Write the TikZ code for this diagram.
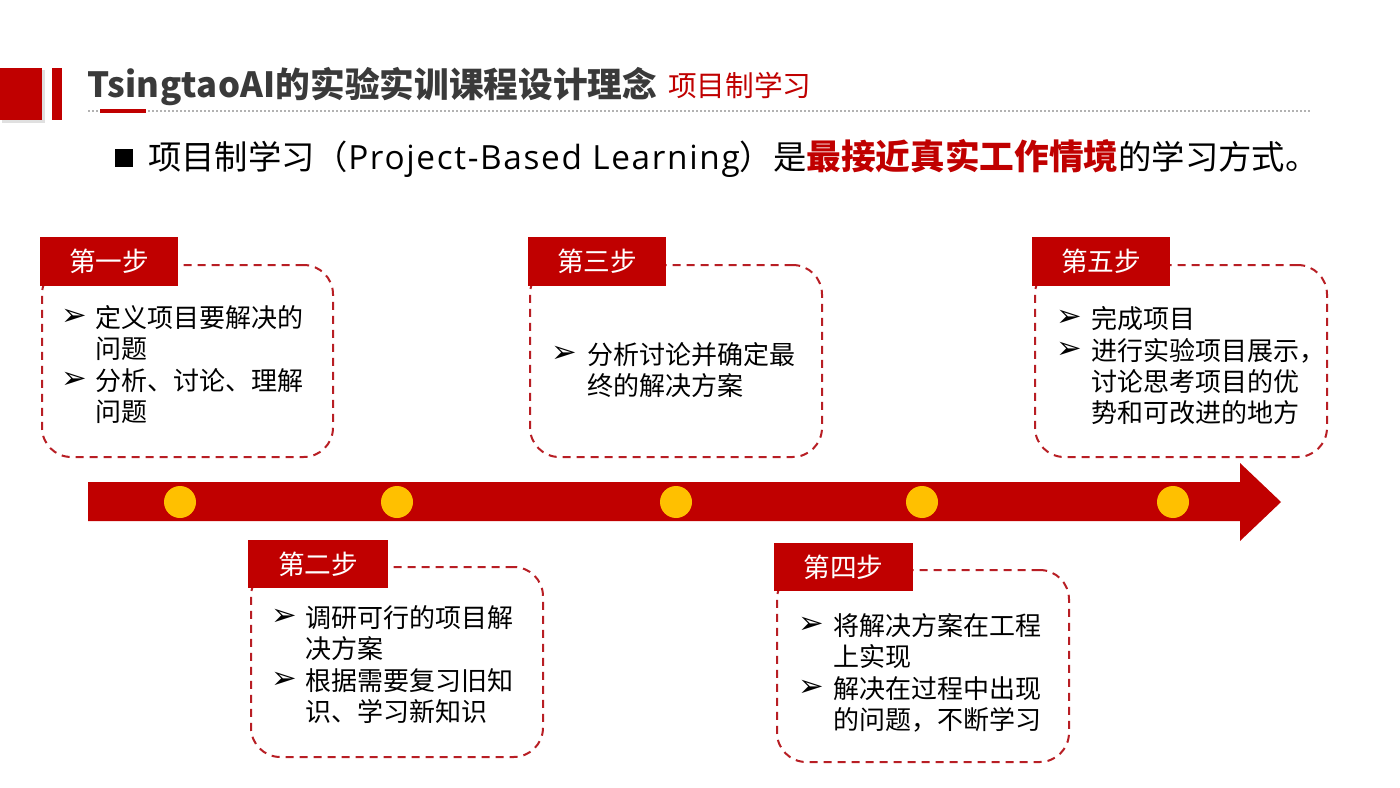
\documentclass[tikz,border=0pt]{standalone}
\usepackage{fontspec}
\setmainfont{Noto Sans CJK SC}
\newfontfamily\dejavu{DejaVu Sans}
\newfontfamily\latinfont{Open Sans}
\definecolor{myred}{HTML}{C00000}
\definecolor{dashred}{HTML}{B81E24}
\definecolor{mygold}{HTML}{FFC000}
\definecolor{titlegray}{HTML}{3A3A3A}
\begin{document}
\begin{tikzpicture}[x=0.75pt,y=-0.75pt,
  stepbox/.style={fill=myred, draw=none, inner sep=0, text=white,
    font=\fontsize{20}{24}\selectfont, minimum width=103.5pt, minimum height=36.75pt},
  dashbox/.style={draw=dashred, line width=1.5pt, dash pattern=on 6pt off 4.5pt,
    rounded corners=22pt, fill=white, inner sep=0},
  txt/.style={anchor=base west, inner sep=0, font=\fontsize{19.5}{23}\selectfont, text=black},
  bul/.style={anchor=center, inner sep=0, font=\dejavu\fontsize{23}{26}\selectfont, text=black},
  dot/.style={circle, fill=mygold, draw=none, minimum size=24pt, inner sep=0}
]
\useasboundingbox (0,0) rectangle (1400,788);
\fill[white] (0,0) rectangle (1400,788);

% header
\fill[black!12] (2,70) rectangle (45,123);
\fill[myred] (0,68) rectangle (42,120);
\fill[myred] (52,68) rectangle (62,120);
\node[anchor=base west, inner sep=0, text=titlegray, font=\bfseries\fontsize{26}{30}\selectfont] (title) at (87,98) {{\addfontfeature{LetterSpace=1}TsingtaoAI}的实验实训课程设计理念};
\node[anchor=base west, inner sep=0, text=myred, font=\fontsize{21.5}{26}\selectfont] (subtitle) at (668,97) {项目制学习};
\draw[black!30, line width=0.8pt, dash pattern=on 1.2pt off 1.8pt] (88,111) -- (1310,111);
\draw[myred, line width=2.4pt] (100,111) -- (146,111);

% lead sentence
\fill[black] (115,149) rectangle (133,167);
\node[anchor=base west, inner sep=0, font=\fontsize{25}{29}\selectfont] (lead) at (148,170) {项目制学习（{\latinfont\addfontfeature{LetterSpace=5}Project-Based Learning}）是\textcolor{myred}{\bfseries\fontsize{26}{29}\selectfont 最接近真实工作情境}的学习方式。};

% arrow
\fill[myred] (88,482) -- (1240,482) -- (1240,463) -- (1281,502) -- (1240,541) -- (1240,521) -- (88,521) -- cycle;
\node[dot] (c1) at (180,502) {};
\node[dot] (c2) at (397,502) {};
\node[dot] (c3) at (676,502) {};
\node[dot] (c4) at (922,502) {};
\node[dot] (c5) at (1173,502) {};

% boxes
\node[dashbox, minimum width=218.25pt, minimum height=144pt] (b1) at (187.5,361) {};
\node[dashbox, minimum width=219pt, minimum height=144pt] (b3) at (676,361) {};
\node[dashbox, minimum width=219pt, minimum height=144pt] (b5) at (1181,361) {};
\node[dashbox, minimum width=219pt, minimum height=142.5pt] (b2) at (397,662) {};
\node[dashbox, minimum width=219pt, minimum height=144pt] (b4) at (923,666) {};

\node[stepbox] (s1) at (109,261.5) {第一步};
\node[stepbox] (s3) at (597,261.5) {第三步};
\node[stepbox] (s5) at (1101,261.5) {第五步};
\node[stepbox, minimum width=105pt, minimum height=36pt] (s2) at (318,564) {第二步};
\node[stepbox, minimum width=104.25pt, minimum height=36pt] (s4) at (843.5,567) {第四步};

% step 1
\node[bul] (a1) at (74,317) {➢};
\node[txt] (t11) at (95,327) {定义项目要解决的};
\node[txt] (t12) at (95,358) {问题};
\node[bul] (a2) at (74,380) {➢};
\node[txt] (t13) at (95,390) {分析、讨论、理解};
\node[txt] (t14) at (95,421) {问题};

% step 3
\node[bul] (a3) at (564,354) {➢};
\node[txt] (t31) at (587,364) {分析讨论并确定最};
\node[txt] (t32) at (587,395) {终的解决方案};

% step 5
\node[bul] (a4) at (1069,318) {➢};
\node[txt] (t51) at (1091,328) {完成项目};
\node[bul] (a5) at (1069,350) {➢};
\node[txt] (t52) at (1091,360) {进行实验项目展示，};
\node[txt] (t53) at (1091,391) {讨论思考项目的优};
\node[txt] (t54) at (1091,422) {势和可改进的地方};

% step 2
\node[bul] (a6) at (284,617) {➢};
\node[txt] (t21) at (305,627) {调研可行的项目解};
\node[txt] (t22) at (305,658) {决方案};
\node[bul] (a7) at (284,680) {➢};
\node[txt] (t23) at (305,690) {根据需要复习旧知};
\node[txt] (t24) at (305,721) {识、学习新知识};

% step 4
\node[bul] (a8) at (811,625) {➢};
\node[txt] (t41) at (833,635) {将解决方案在工程};
\node[txt] (t42) at (833,666) {上实现};
\node[bul] (a9) at (811,688) {➢};
\node[txt] (t43) at (833,698) {解决在过程中出现};
\node[txt] (t44) at (833,729) {的问题，不断学习};
\end{tikzpicture}
\end{document}
